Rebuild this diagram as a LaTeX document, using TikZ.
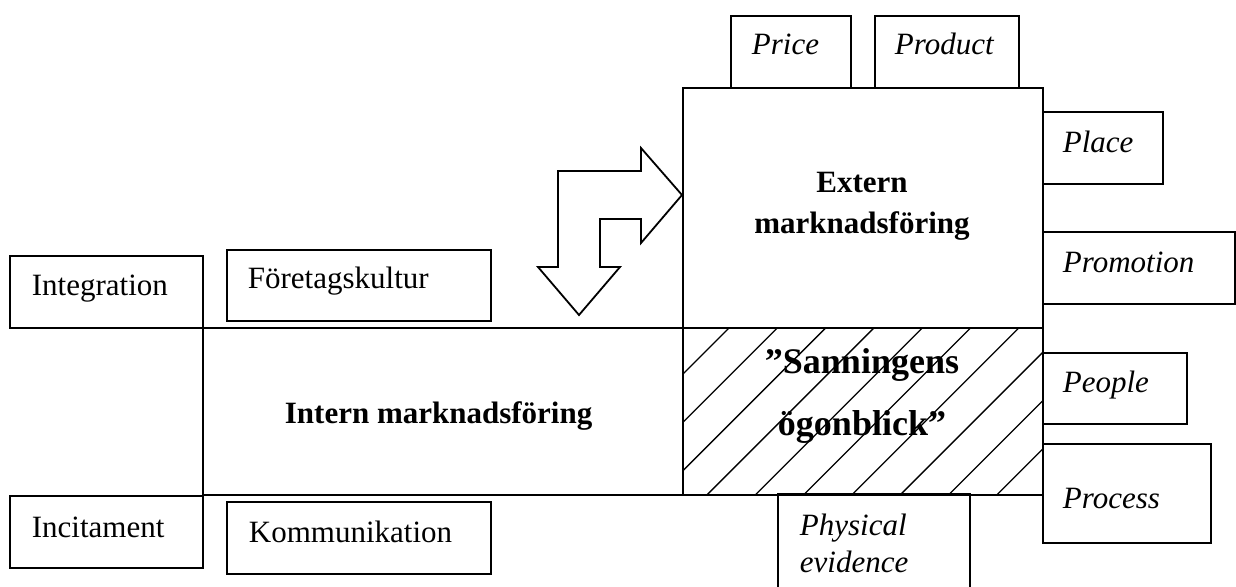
\documentclass[tikz,border=0pt]{standalone}
\usepackage{fontspec}
\setmainfont{Liberation Serif}
\begin{document}
\begin{tikzpicture}[x=1pt,y=-1pt, line width=1.8pt,
  box/.style={draw, inner sep=0pt, anchor=north west},
  lbl/.style={anchor=base west, inner sep=0pt, font=\fontsize{31}{37}\selectfont},
  ilbl/.style={anchor=base west, inner sep=0pt, font=\fontsize{31}{37}\selectfont\itshape},
  blbl/.style={anchor=base, inner sep=0pt, font=\fontsize{31}{37}\selectfont\bfseries},
  bigbold/.style={anchor=base, inner sep=0pt, font=\fontsize{36}{40}\selectfont\bfseries},
  hatchline/.style={line width=1.3pt}]
\useasboundingbox (0,0) rectangle (1236,586);

% hatching
\begin{scope}
  \clip (682,327) rectangle (1042,494);
  \foreach \k in {-1,...,10} {
    \draw[hatchline] ({1057+48.3*\k-317},317) -- ({1057+48.3*\k-504},504);
  }
\end{scope}

% boxes
\node[box, minimum width=120pt, minimum height=72pt] (price) at (730,15) {};
\node[box, minimum width=144pt, minimum height=72pt] (product) at (874,15) {};
\node[box, minimum width=360pt, minimum height=240pt] (extern) at (682,87) {};
\node[box, minimum width=360pt, minimum height=167pt] (hatch) at (682,327) {};
\node[box, minimum width=480pt, minimum height=167pt] (intern) at (202,327) {};
\node[box, minimum width=120pt, minimum height=72pt] (place) at (1042,111) {};
\node[box, minimum width=192pt, minimum height=72pt] (promotion) at (1042,231) {};
\node[box, minimum width=144pt, minimum height=71pt] (people) at (1042,352) {};
\node[box, minimum width=168pt, minimum height=99pt] (process) at (1042,443) {};
\node[box, minimum width=193pt, minimum height=72pt] (integ) at (9,255) {};
\node[box, minimum width=264pt, minimum height=71pt] (foretag) at (226,249) {};
\node[box, minimum width=193pt, minimum height=72pt] (incit) at (9,495) {};
\node[box, minimum width=264pt, minimum height=72pt] (komm) at (226,501) {};
\coordinate (phbl) at (778,587);
\coordinate (phtl) at (778,494);
\coordinate (phtr) at (970,494);
\coordinate (phbr) at (970,587);
\draw (phbl) -- (phtl) -- (phtr) -- (phbr);

% double arrow
\draw[fill=white] (558,267) -- (558,171) -- (641,171) -- (641,148) -- (682,195)
  -- (641,243) -- (641,219) -- (600,219) -- (600,267) -- (620,267) -- (579,315)
  -- (538,267) -- cycle;

% texts
\node[ilbl] (tprice) at (751,55) {Price};
\node[ilbl] (tproduct) at (894,55) {Product};
\node[ilbl] (tplace) at (1062,152) {Place};
\node[ilbl] (tpromotion) at (1062,272) {Promotion};
\node[ilbl] (tpeople) at (1062,392) {People};
\node[ilbl] (tprocess) at (1062,508) {Process};
\node[ilbl] (tphys1) at (799,535) {Physical};
\node[ilbl] (tphys2) at (799,572) {evidence};
\node[lbl] (tinteg) at (31,295) {Integration};
\node[lbl] (tforetag) at (247,288) {Företagskultur};
\node[lbl] (tincit) at (31,537) {Incitament};
\node[lbl] (tkomm) at (248,542) {Kommunikation};
\node[blbl, anchor=base west] (tintern) at (284,423) {Intern marknadsföring};
\node[blbl] (text1) at (862,192) {Extern};
\node[blbl] (text2) at (862,233) {marknadsföring};
\node[bigbold] (tsann1) at (862,373) {”Sanningens};
\node[bigbold] (tsann2) at (862,435) {ögonblick”};
\end{tikzpicture}
\end{document}
